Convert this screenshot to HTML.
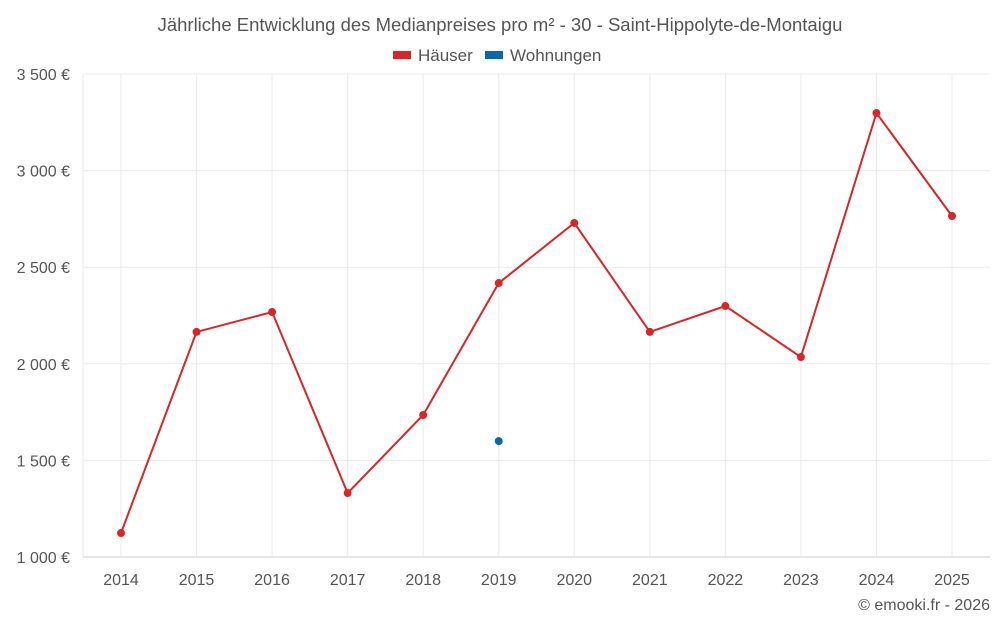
<!DOCTYPE html>
<html><head><meta charset="utf-8"><style>
body{margin:0;background:#fff;font-family:"Liberation Sans",sans-serif}
svg text{font-family:"Liberation Sans",sans-serif}
</style></head><body>
<svg id="c" width="1000" height="625">
<text x="500" y="31" text-anchor="middle" font-size="18.5" fill="#555">Jährliche Entwicklung des Medianpreises pro m² - 30 - Saint-Hippolyte-de-Montaigu</text>
<g><rect x="393" y="51" width="18" height="8" fill="#d62728"/><text x="418" y="61" font-size="17" fill="#555">Häuser</text></g>
<g><rect x="485" y="51" width="18" height="8" fill="#0868a8"/><text x="510" y="61" font-size="17" fill="#555">Wohnungen</text></g>
<g id="grid"></g><g id="marks"></g>
<text x="990" y="610" text-anchor="end" font-size="16" fill="#555">© emooki.fr - 2026</text>
</svg>
<script>
const years=[2014,2015,2016,2017,2018,2019,2020,2021,2022,2023,2024,2025];
const haeuser=[1124,2165,2268,1331,1735,2418,2729,2165,2299,2035,3298,2765];
const wohnungen=[null,null,null,null,null,1600,null,null,null,null,null,null];
const yTicks=[1000,1500,2000,2500,3000,3500];
const yLabels=["1 000 €","1 500 €","2 000 €","2 500 €","3 000 €","3 500 €"];
const NS="http://www.w3.org/2000/svg";
const x=i=>121+i*(952-121)/(years.length-1);
const y=v=>557-(v-1000)*(557-74)/2500;
function mk(p,t,a){const e=document.createElementNS(NS,t);for(const k in a)e.setAttribute(k,a[k]);p.appendChild(e);return e;}
const g=document.getElementById('grid'),m=document.getElementById('marks');
yTicks.forEach((v,i)=>{
 const l=mk(g,'line',{x1:83,x2:990,y1:y(v),y2:y(v),stroke:i?'#ebebeb':'#ccc'});
 
 
 const t=mk(g,'text',{x:70,y:y(v)+6,'text-anchor':'end','font-size':16,fill:'#555'});t.textContent=yLabels[i];
 
 
});
mk(g,'line',{x1:83,x2:83,y1:74,y2:557,stroke:'#ebebeb'});
years.forEach((yr,i)=>{
 const l=mk(g,'line',{x1:x(i),x2:x(i),y1:74,y2:557,stroke:'#ebebeb'});
 
 
 const t=mk(g,'text',{x:x(i),y:585,'text-anchor':'middle','font-size':16,fill:'#555'});t.textContent=yr;
 
 
});
const p=mk(m,'polyline',{points:haeuser.map((v,i)=>x(i)+','+y(v)).join(' '),fill:'none',stroke:'#d62728','stroke-width':2});


haeuser.forEach((v,i)=>{const c=mk(m,'circle',{cx:x(i),cy:y(v),r:4,fill:'#d62728'});
 
 });
wohnungen.forEach((v,i)=>{if(v==null)return;const c=mk(m,'circle',{cx:x(i),cy:y(v),r:4,fill:'#0868a8'});
 
 });
</script>
</body></html>
